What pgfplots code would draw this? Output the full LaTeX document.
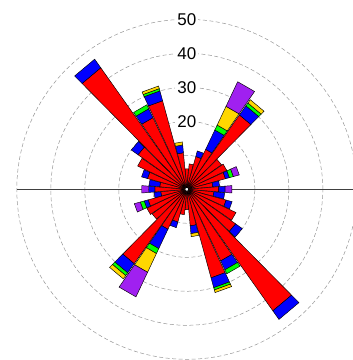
\documentclass[border=0pt]{standalone}
\usepackage{pgfplots}
\pgfplotsset{compat=1.18}
\usepackage{pgfplotstable}
\usepackage{fontspec}
\setmainfont{Liberation Sans}

\definecolor{cRed}{RGB}{255,0,0}
\definecolor{cBlue}{RGB}{0,0,255}
\definecolor{cGreen}{RGB}{0,255,0}
\definecolor{cGold}{RGB}{255,215,0}
\definecolor{cPurple}{RGB}{160,32,240}
\definecolor{ringgray}{RGB}{150,150,150}

% axial rose: each 10-degree class is drawn at its bearing and at bearing+180
\pgfplotstableread{
dir  red  blue green gold purple
0    6.0  0.0  0.0   0.0  0.0
10   7.5  0.0  0.0   0.0  0.0
20   10.0 1.7  0.0   0.0  0.0
30   13.0 6.3  1.6   6.1  8.0
40   26.8 3.3  1.0   1.2  0.0
50   12.5 0.0  0.0   0.0  0.0
60   13.0 0.0  0.0   0.0  0.0
70   11.8 1.2  1.2   0.0  1.8
80   7.7  2.0  0.0   0.0  0.0
90   9.4  1.9  0.0   0.0  2.0
100  8.0  3.2  0.0   0.0  0.0
110  12.0 1.8  0.0   0.0  0.0
120  16.0 0.0  0.0   0.0  0.0
130  17.6 2.4  0.0   0.0  0.0
140  43.8 3.1  0.0   0.0  0.0
150  23.3 2.9  1.3   0.0  0.0
160  27.0 3.0  0.7   0.8  0.0
170  10.8 2.3  0.0   0.9  0.0
}\rosedata

\pgfplotsset{petal/.style={draw=black, line width=0.45pt, line join=miter}}

% one stacked segment: bearing (deg, clockwise from north), inner, outer, colour
\newcommand\petal[4]{%
  \ifdim\dimexpr #3pt - #2pt\relax>0.01pt
    \pgfmathsetmacro\thA{90-(#1)+4.7}%
    \pgfmathsetmacro\thB{90-(#1)-4.7}%
    \pgfmathsetmacro\xA{(#2)*cos(\thA)}\pgfmathsetmacro\yA{(#2)*sin(\thA)}%
    \pgfmathsetmacro\xB{(#3)*cos(\thA)}\pgfmathsetmacro\yB{(#3)*sin(\thA)}%
    \pgfmathsetmacro\xC{(#3)*cos(\thB)}\pgfmathsetmacro\yC{(#3)*sin(\thB)}%
    \pgfmathsetmacro\xD{(#2)*cos(\thB)}\pgfmathsetmacro\yD{(#2)*sin(\thB)}%
    \edef\next{\noexpand\addplot[petal, fill=#4] coordinates
      {(\xA,\yA) (\xB,\yB) (\xC,\yC) (\xD,\yD)} -- cycle;}%
    \next
  \fi}

% full stacked bar at one bearing
\newcommand\petalbar[1]{%
  \petal{#1}{0}{\cA}{cRed}%
  \petal{#1}{\cA}{\cB}{cBlue}%
  \petal{#1}{\cB}{\cC}{cGreen}%
  \petal{#1}{\cC}{\cD}{cGold}%
  \petal{#1}{\cD}{\cE}{cPurple}}

\begin{document}
\begin{tikzpicture}
\useasboundingbox (0,0) rectangle (353bp,360bp);
\begin{axis}[
  scale only axis,
  width=353bp, height=360bp,
  xmin=-54.94, xmax=48.88,
  ymin=-50.21, ymax=55.68,
  hide axis,
  clip=true,
]
  % dashed range rings, 3.4bp per unit
  \pgfplotsinvokeforeach{34,68,102,136,170}{%
    \draw[ringgray, line width=0.5pt, dash pattern=on 4bp off 2.5bp]
      (axis cs:0,0) circle[radius=#1bp];
  }
  % ring labels on the north axis
  \pgfplotsinvokeforeach{20,30,40,50}{%
    \node[fill=white, inner sep=2bp, font=\fontsize{17bp}{17bp}\selectfont]
      at (axis cs:0,#1) {#1};
  }
  % east-west reference line
  \draw[black!75, line width=0.8pt] (axis cs:-50,0) -- (axis cs:52,0);

  \pgfplotsinvokeforeach{0,...,17}{%
    \pgfplotstablegetelem{#1}{dir}\of\rosedata \edef\bdir{\pgfplotsretval}%
    \pgfplotstablegetelem{#1}{red}\of\rosedata \edef\vR{\pgfplotsretval}%
    \pgfplotstablegetelem{#1}{blue}\of\rosedata \edef\vB{\pgfplotsretval}%
    \pgfplotstablegetelem{#1}{green}\of\rosedata \edef\vG{\pgfplotsretval}%
    \pgfplotstablegetelem{#1}{gold}\of\rosedata \edef\vY{\pgfplotsretval}%
    \pgfplotstablegetelem{#1}{purple}\of\rosedata \edef\vP{\pgfplotsretval}%
    \pgfmathsetmacro\cA{\vR}%
    \pgfmathsetmacro\cB{\cA+\vB}%
    \pgfmathsetmacro\cC{\cB+\vG}%
    \pgfmathsetmacro\cD{\cC+\vY}%
    \pgfmathsetmacro\cE{\cD+\vP}%
    \petalbar{\bdir}%
    \pgfmathsetmacro\bopp{\bdir+180}%
    \petalbar{\bopp}%
  }

  \draw[black, line width=0.9pt, fill=white] (axis cs:0,0) circle[radius=2bp];
\end{axis}
\end{tikzpicture}
\end{document}
